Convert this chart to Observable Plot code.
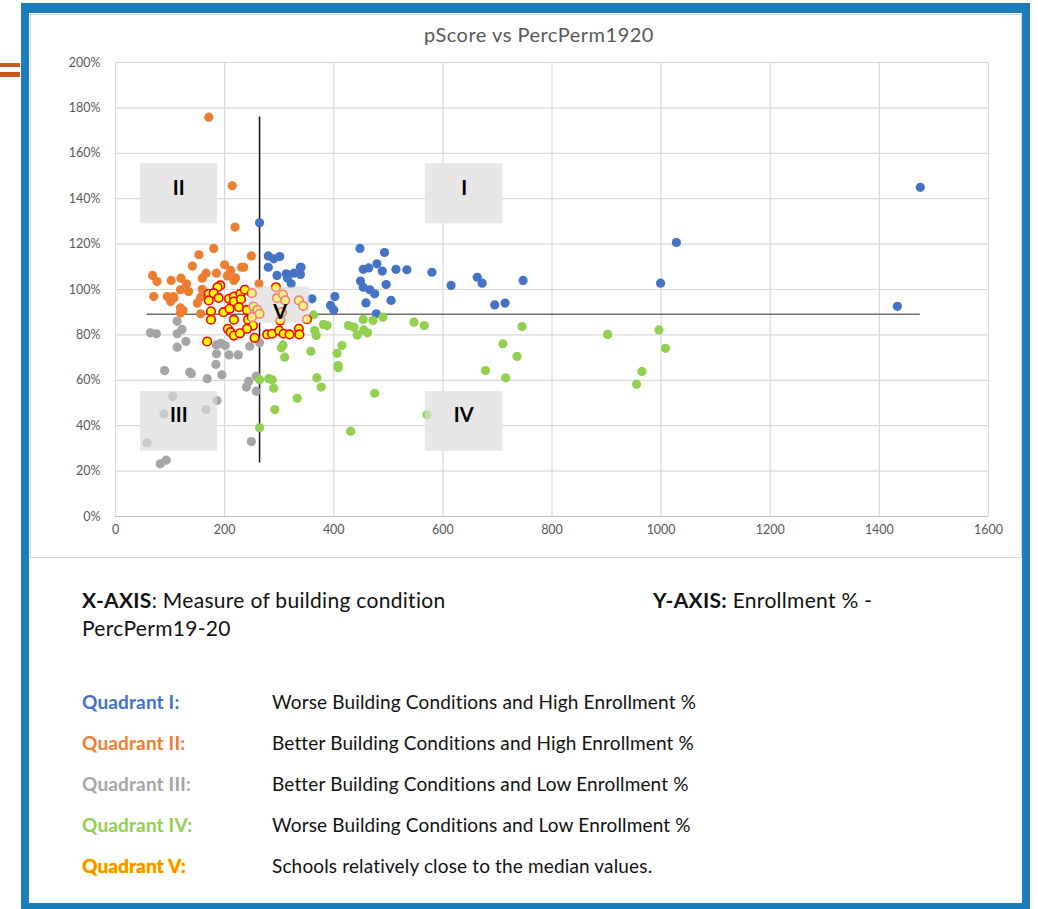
<!DOCTYPE html>
<html><head><meta charset="utf-8">
<script src="https://cdn.jsdelivr.net/npm/d3@7"></script>
<script src="https://cdn.jsdelivr.net/npm/@observablehq/plot@0.6"></script>
<style>
body{margin:0;background:#fff;width:1038px;height:909px;position:relative;overflow:hidden;font-family:Lato,"Open Sans",sans-serif;}
.bar{position:absolute;left:0;width:20px;background:#C9581E;}
#frame{position:absolute;left:21px;top:3px;width:993px;height:890px;border:8px solid #1C7DBD;border-top-width:10px;}
#chartbox{position:absolute;left:30px;top:14px;width:992px;height:544px;box-sizing:border-box;border:1px solid #D9D9D9;background:#fff;}
#chart{position:absolute;left:30px;top:14px;}
#title{position:absolute;left:289px;width:500px;top:22px;text-align:center;font-size:20px;letter-spacing:0.5px;color:#595959;}
.t{position:absolute;color:#111;white-space:nowrap;}
.ax{font-size:21px;line-height:28px;letter-spacing:0.3px;}
.q{font-size:19px;line-height:22px;letter-spacing:0.15px;}
.qn{font-weight:bold;}
</style></head>
<body>
<div class="bar" style="top:63px;height:4px"></div>
<div class="bar" style="top:72px;height:5px"></div>
<div id="frame"></div>
<div id="chartbox"></div>
<div id="chart"></div>
<div id="title">pScore vs PercPerm1920</div>
<div class="t ax" style="left:82px;top:586px"><b>X-AXIS</b>: Measure of building condition<br>PercPerm19-20</div>
<div class="t ax" style="left:653px;top:586px"><b>Y-AXIS:</b> Enrollment % -</div>
<div id="legend"></div>
<script>
// axis ticks
const xTicks = [0, 200, 400, 600, 800, 1000, 1200, 1400, 1600];
const yTicks = [0, 20, 40, 60, 80, 100, 120, 140, 160, 180, 200];

// Quadrant I (blue)
const q1X = [264,280,290,301,280,296,313,315,322,339,327,339,340,448,493,479,454,464,489,514,534,580,449,454,466,496,475,615,663,672,747,360,402,394,400,459,505,478,695,714,999,1028,1475,1433];
const q1Y = [129.4,114.8,113.5,114.5,109.8,106.2,106.9,105.1,102.5,109.8,107.2,106.6,109.8,118.1,116.3,111.3,108.9,109.5,108.1,108.9,108.7,107.6,103.7,101,99.9,102.2,98.1,101.8,105.4,102.8,104,95.9,96.9,93,91,94.1,95.2,89.3,93.2,94,102.8,120.7,145,92.6];

// Quadrant II (orange)
const q2X = [171,214,219,180,153,249,141,200,235,166,185,211,205,220,217,159,68,76,102,120,130,263,70,95,106,101,107,119,134,159,150,156,119,124,119,156,231];
const q2Y = [175.9,145.7,127.5,118.1,115.3,114.8,110.3,110.9,109.8,107.2,107.2,108.4,106,105.1,104,105,106.2,103.5,104,105,102.5,102.5,96.9,96.9,96.9,94.7,96.3,99.9,99.1,100.1,94,96.6,91.9,90.7,89.6,89.3,109.8];

// Quadrant III (gray)
const q3X = [64,75,113,122,113,113,129,185,193,201,185,208,225,184,195,168,90,136,139,246,264,258,244,240,258,186,105,89,166,58,249,82,93];
const q3Y = [80.9,80.5,80.5,82.4,86,74.6,77.1,75.6,76.3,75.3,71.7,71.2,71.2,67,62.4,60.7,64.3,63.6,62.9,75,76.5,61.8,59.5,57,55.2,51.1,53,45.2,47.1,32.5,33,23.2,24.8];

// Quadrant IV (green)
const q4X = [363,381,388,365,368,427,437,443,454,472,490,455,462,547,566,307,304,310,358,415,406,408,408,264,281,287,290,369,377,333,475,292,571,264,431,745,736,710,678,715,902,996,1008,965,955];
const q4Y = [88.8,84.6,84.1,81.9,79.7,84.1,83.4,80,86.8,86.3,87.8,82.2,80.9,85.6,84.1,75.6,74.3,70.2,72.8,75.3,71.9,66.5,65.5,60.2,60.7,60.2,56.5,61.1,57,52.1,54.3,47.1,44.8,39.1,37.6,83.7,70.5,76.1,64.3,61.1,80.2,82.2,74.1,63.9,58.3];

// Quadrant V (near median)
const q5X = [192,187,171,180,171,189,208,217,229,237,217,230,175,198,209,226,241,175,217,243,252,241,206,211,217,228,168,255,278,287,300,308,319,336,337,294,250,253,260,264,250,296,307,311,302,336,344,351,305];
const q5Y = [101.8,101,98.1,98.4,95.2,96.3,95.9,96.9,98.1,99.9,94.7,95.7,90.4,90,91.5,92.2,91,86.7,86.7,86.7,84.1,82.7,82.7,81.2,79.7,80.7,77.1,78.7,80.2,80.5,81.9,80.5,80.2,82.7,80.2,101,98.4,92.5,91,89.3,87.8,96.3,97.8,95.2,86.3,95.2,92.8,86.9,90];

// median reference lines
const medianX = 264, medianXFrom = 23.6, medianXTo = 176;
const medianY = 89.1, medianYFrom = 58, medianYTo = 1475;

// quadrant label boxes
const boxLabels = ["I", "II", "III", "IV", "V"];
const boxX1 = [568, 46, 46, 568, 244];
const boxX2 = [710, 187, 187, 710, 356];
const boxY1 = [129, 129, 28.8, 28.8, 85.2];
const boxY2 = [155.4, 155.4, 55, 55, 101];
const labelX = [639, 116, 116, 638, 302];
const labelY = [144.6, 144.6, 44.5, 44.5, 89.8];

// legend text
const legendNames = ["Quadrant I:", "Quadrant II:", "Quadrant III:", "Quadrant IV:", "Quadrant V:"];
const legendDesc = ["Worse Building Conditions and High Enrollment %", "Better Building Conditions and High Enrollment %", "Better Building Conditions and Low Enrollment %", "Worse Building Conditions and Low Enrollment %", "Schools relatively close to the median values."];
const legendColors = ["#4472C4", "#ED7D31", "#A5A5A5", "#92D050", "#FF8C00"];

const pts = (xs, ys) => xs.map((x, i) => ({x, y: ys[i]}));
const boxes = boxLabels.map((l, i) => ({label: l, x1: boxX1[i], x2: boxX2[i], y1: boxY1[i], y2: boxY2[i], lx: labelX[i], ly: labelY[i]}));

const svg = Plot.plot({
  width: 992, height: 544,
  marginLeft: 85, marginRight: 34, marginTop: 48, marginBottom: 42,
  style: {fontFamily: "Lato, 'Open Sans', sans-serif", fontSize: "12.5px", color: "#595959", background: "transparent"},
  x: {domain: [0, 1600], label: null},
  y: {domain: [0, 200], label: null},
  marks: [
    Plot.ruleX(xTicks, {stroke: "#D9D9D9", strokeWidth: 1.2}),
    Plot.ruleY(yTicks, {stroke: "#D9D9D9", strokeWidth: 1.2}),
    Plot.ruleY([0], {stroke: "#BFBFBF", strokeWidth: 1.2}),
    Plot.axisX({ticks: xTicks, tickSize: 0, tickPadding: 9, tickFormat: d => String(d), fill: "#595959"}),
    Plot.axisY({ticks: yTicks, tickSize: 0, tickPadding: 15, tickFormat: d => d + "%", fill: "#595959"}),
    Plot.ruleX([medianX], {y1: medianXFrom, y2: medianXTo, stroke: "#111", strokeWidth: 1.5}),
    Plot.ruleY([medianY], {x1: medianYFrom, x2: medianYTo, stroke: "#6E6E6E", strokeWidth: 1.5}),
    Plot.rect(boxes, {x1: "x1", x2: "x2", y1: "y1", y2: "y2", fill: "#E7E7E7"}),
    Plot.dot(pts(q1X, q1Y), {x: "x", y: "y", r: 4.6, fill: "#4472C4"}),
    Plot.dot(pts(q2X, q2Y), {x: "x", y: "y", r: 4.6, fill: "#ED7D31"}),
    Plot.dot(pts(q3X, q3Y), {x: "x", y: "y", r: 4.6, fill: "#A5A5A5"}),
    Plot.dot(pts(q4X, q4Y), {x: "x", y: "y", r: 4.6, fill: "#92D050"}),
    Plot.dot(pts(q5X, q5Y), {x: "x", y: "y", r: 4.3, fill: "#FFFF00", stroke: "#FF0000", strokeWidth: 1.6}),
    Plot.rect(boxes, {x1: "x1", x2: "x2", y1: "y1", y2: "y2", fill: "#E7E7E7", fillOpacity: 0.55}),
    Plot.text(boxes, {x: "lx", y: "ly", text: "label", fontSize: 20, fontWeight: "bold", fill: "#000"})
  ]
});
document.getElementById("chart").appendChild(svg);

const leg = document.getElementById("legend");
const rowTop = [691, 732, 773, 814, 855];
legendNames.forEach((n, i) => {
  const a = document.createElement("div");
  a.className = "t q qn";
  a.style.left = "82px"; a.style.top = rowTop[i] + "px";
  a.style.color = legendColors[i];
  if (i === 4) a.style.textShadow = "0 0 1.5px #FFE000, 0 0 1px #FFE000";
  a.textContent = n;
  leg.appendChild(a);
  const b = document.createElement("div");
  b.className = "t q";
  b.style.left = "272px"; b.style.top = rowTop[i] + "px";
  b.textContent = legendDesc[i];
  leg.appendChild(b);
});
</script>
</body></html>
